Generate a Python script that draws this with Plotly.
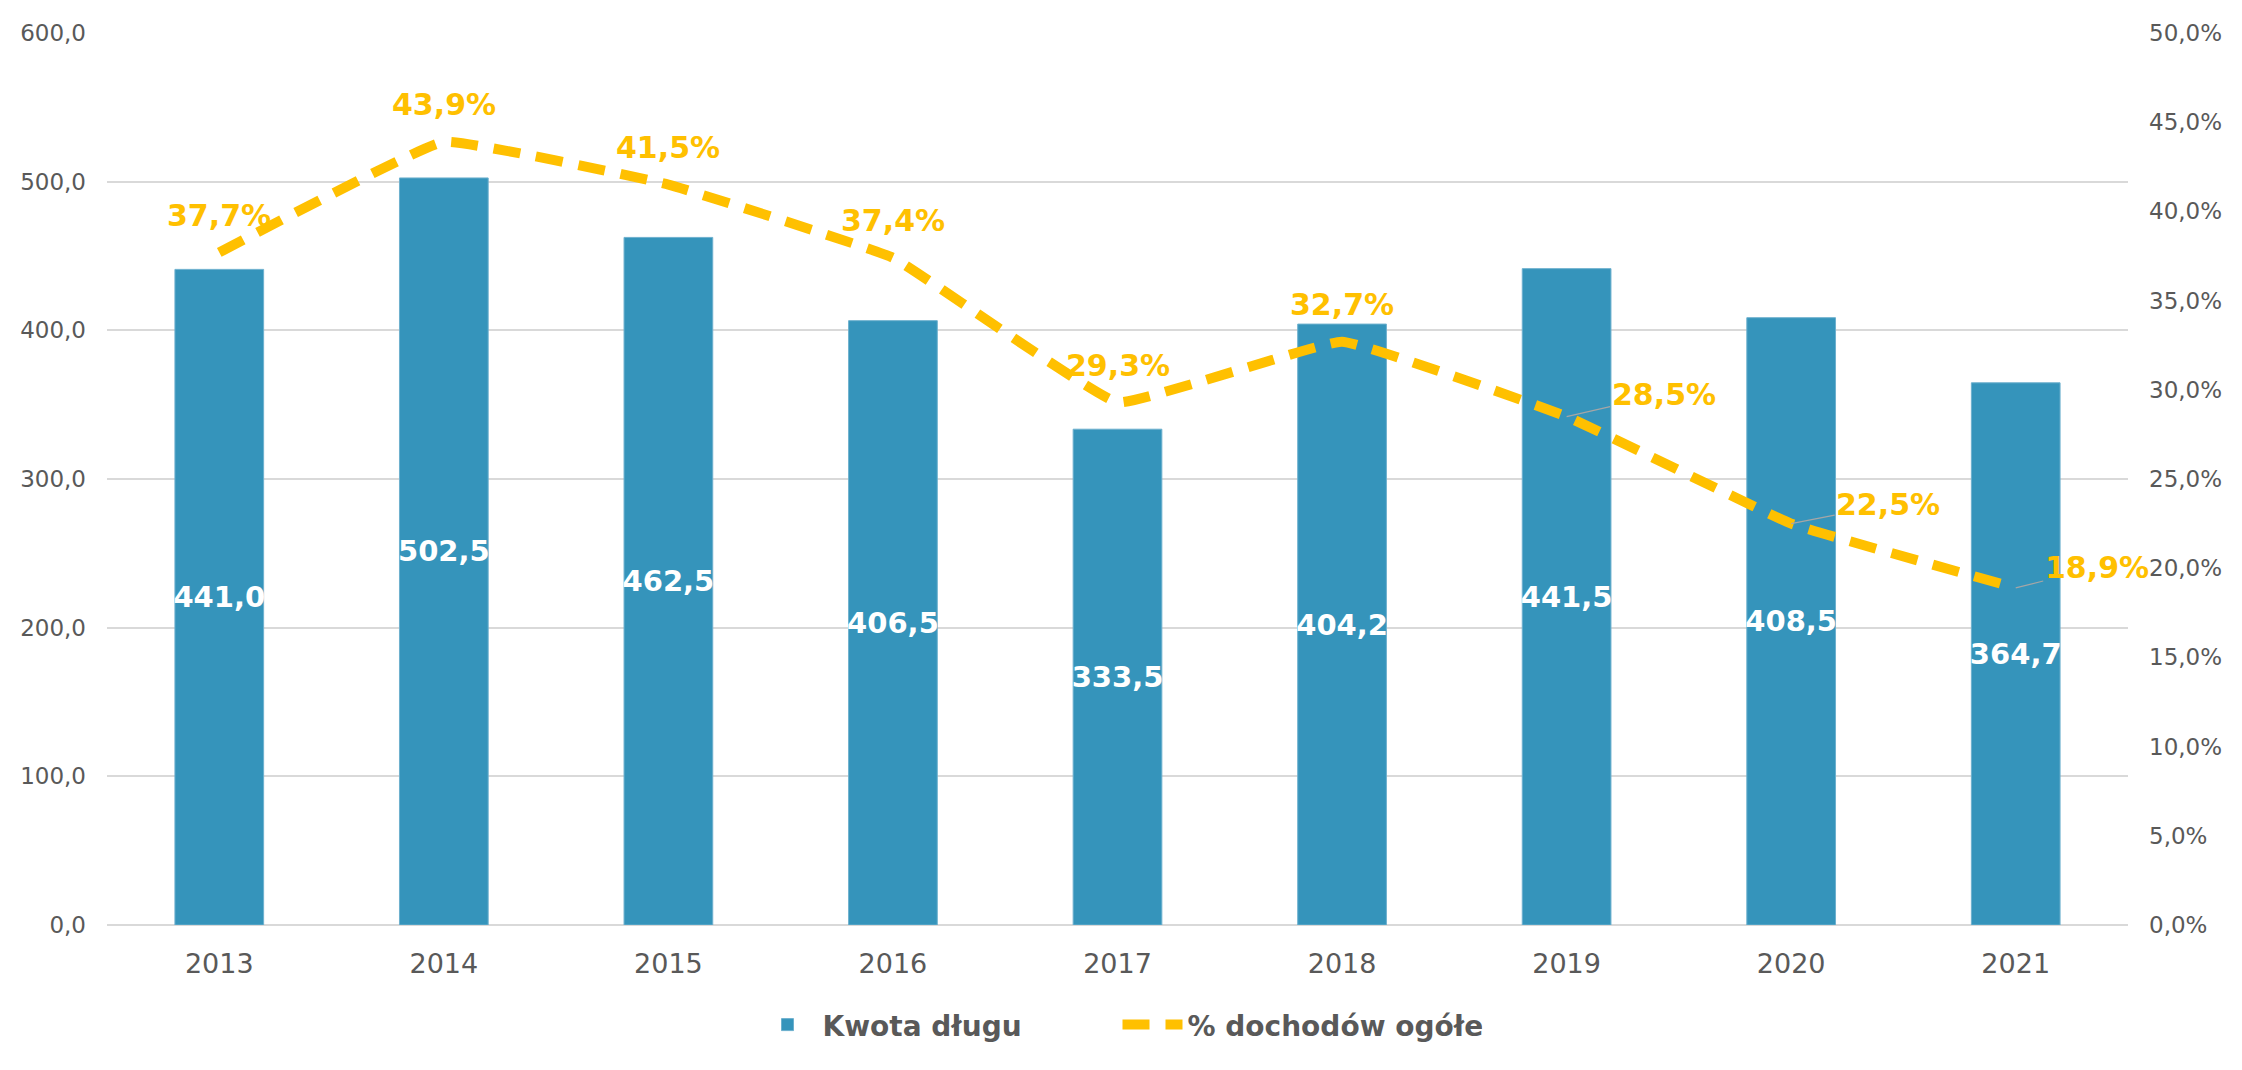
import plotly.graph_objects as go

years = ["2013", "2014", "2015", "2016", "2017", "2018", "2019", "2020", "2021"]
debt = [441.0, 502.5, 462.5, 406.5, 333.5, 404.2, 441.5, 408.5, 364.7]
pct = [37.7, 43.9, 41.5, 37.4, 29.3, 32.7, 28.5, 22.5, 18.9]
bar_name = "Kwota długu"
line_name = "% dochodów ogółem"

FONT = "Century Gothic, URW Gothic, DejaVu Sans, sans-serif"
BLUE = "#3594BB"
GOLD = "#FFC000"
GREY = "#595959"

fig = go.Figure()
fig.add_trace(go.Bar(
    x=years, y=debt, name="<b>" + bar_name + "</b>",
    marker=dict(color=BLUE, line=dict(color="#6DB0CE", width=1)),
    texttemplate="<b>%{y:.1f}</b>", textposition="inside", insidetextanchor="middle",
    textangle=0, textfont=dict(color="white", size=29, family=FONT),
    constraintext="none",
    yaxis="y",
))
fig.add_trace(go.Scatter(
    x=years, y=pct, name="<b>" + line_name + "</b>", mode="lines",
    line=dict(color=GOLD, width=10, dash="27px,16px", shape="spline", smoothing=0.25),
    yaxis="y2",
))

# percentage labels (x given as category index)
offsets = {6: (97, -22), 7: (97, -19), 8: (81, -20)}
for i, p in enumerate(pct):
    txt = "<b>" + f"{p:.1f}".replace(".", ",") + "%</b>"
    if i in offsets:
        ax, ay = offsets[i]
        fig.add_annotation(x=i, y=p, xref="x", yref="y2", text=txt, showarrow=True,
                           ax=ax, ay=ay, arrowhead=0, arrowwidth=1.2, arrowcolor="#A6A6A6",
                           standoff=0, font=dict(color=GOLD, size=30, family=FONT))
    else:
        fig.add_annotation(x=i, y=p, xref="x", yref="y2", text=txt, showarrow=False,
                           yshift=37, font=dict(color=GOLD, size=30, family=FONT))

fig.update_layout(
    width=2226, height=1054,
    margin=dict(l=99, r=95, t=17, b=113),
    paper_bgcolor="white", plot_bgcolor="white",
    separators=", ",
    font=dict(family=FONT, color=GREY),
    bargap=0.605,
    uniformtext=dict(minsize=29, mode="show"),
    xaxis=dict(type="category", range=[-0.5, len(years) - 0.5], showgrid=False,
               showline=False, ticks="", tickfont=dict(size=27, color=GREY),
               ticklabelstandoff=20),
    yaxis=dict(range=[0, 600], dtick=100, tickformat=".1f", showgrid=True,
               gridcolor="#D9D9D9", gridwidth=2, zeroline=True, zerolinecolor="#D9D9D9",
               zerolinewidth=2, showline=False, ticks="", tickfont=dict(size=23, color=GREY),
               ticklabelstandoff=20),
    yaxis2=dict(range=[0, 50], dtick=5, tickformat=".1f", ticksuffix="%", overlaying="y",
                side="right", showgrid=False, zeroline=False, showline=False, ticks="",
                tickfont=dict(size=23, color=GREY), ticklabelstandoff=20),
    legend=dict(orientation="h", x=0.5, xanchor="center", y=-0.112, yanchor="middle",
                font=dict(size=28, color=GREY, family=FONT), itemwidth=60,
                entrywidth=290, entrywidthmode="pixels",
                traceorder="normal", bgcolor="rgba(0,0,0,0)"),
    showlegend=True,
)

fig.write_html("out.html")
